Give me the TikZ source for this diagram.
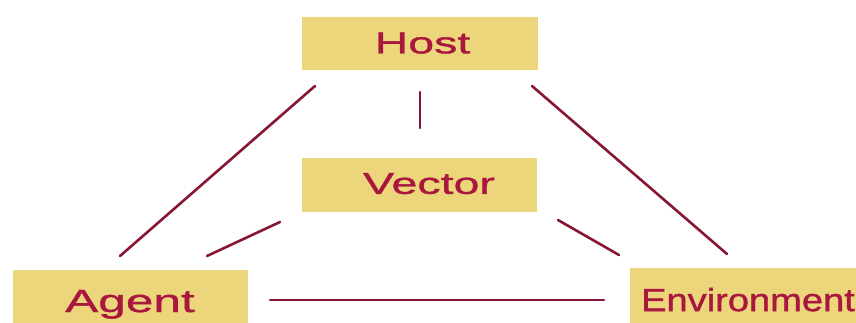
\documentclass[tikz,border=0pt]{standalone}
\usepackage{fontspec}
\newfontfamily\widefont[FakeStretch=1.55, FakeBold=1.2]{Liberation Sans}
\newfontfamily\envfont[FakeStretch=1.19, FakeBold=1.2]{Liberation Sans}
\definecolor{boxfill}{RGB}{237,213,124}
\definecolor{labelred}{RGB}{168,24,62}
\definecolor{linkred}{RGB}{135,22,50}
\tikzset{
  factor/.style={rectangle, fill=boxfill, draw=none, inner sep=0pt},
  factorlabel/.style={text=labelred, inner sep=0pt, text depth=0pt},
  link/.style={draw=linkred, line width=2.6pt, line cap=round}
}
\begin{document}
\begin{tikzpicture}[x=1pt, y=-1pt]
\useasboundingbox (0,0) rectangle (856,323);
\clip (0,0) rectangle (856,323);

% the four factors of the epidemiological triangle
\node[factor, minimum width=236pt, minimum height=53pt] (host) at (420,43.5) {};
\node[factorlabel, font=\widefont\fontsize{30}{30}\selectfont]
  (hostlabel) at (422.5,43) {Host};

\node[factor, minimum width=235pt, minimum height=54pt] (vector) at (419.5,185) {};
\node[factorlabel, font=\widefont\fontsize{30}{30}\selectfont]
  (vectorlabel) at (429,183.5) {Vector};

\node[factor, minimum width=235pt, minimum height=62pt] (agent) at (130.5,301) {};
\node[factorlabel, font=\widefont\fontsize{32}{32}\selectfont]
  (agentlabel) at (130,301) {Agent};

\node[factor, minimum width=240pt, minimum height=64pt] (env) at (750,300) {};
\node[factorlabel, font=\envfont\fontsize{32}{32}\selectfont]
  (envlabel) at (748,299.5) {Environment};

% end points of the links, kept clear of the boxes
\coordinate (ha1) at (315,86);   \coordinate (ha2) at (120,256);
\coordinate (he1) at (532,86);   \coordinate (he2) at (727,254);
\coordinate (hv1) at (420,92);   \coordinate (hv2) at (420,128);
\coordinate (va1) at (280,222);  \coordinate (va2) at (207,256);
\coordinate (ve1) at (558,220);  \coordinate (ve2) at (619,255);
\coordinate (ae1) at (270,300);  \coordinate (ae2) at (604,300);

\draw[link] (ha1) -- (ha2);
\draw[link] (he1) -- (he2);
\draw[link] (hv1) -- (hv2);
\draw[link] (va1) -- (va2);
\draw[link] (ve1) -- (ve2);
\draw[link] (ae1) -- (ae2);
\end{tikzpicture}
\end{document}
